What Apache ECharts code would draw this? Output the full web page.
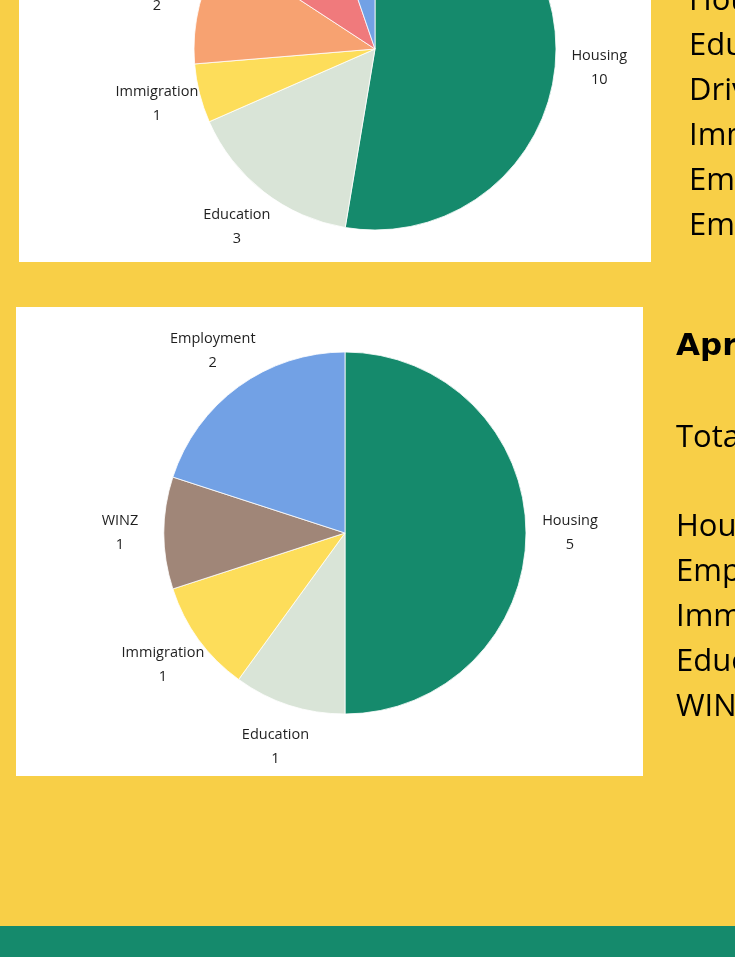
<!DOCTYPE html>
<html>
<head>
<meta charset="utf-8">
<script src="https://cdn.jsdelivr.net/npm/echarts@6/dist/echarts.min.js"></script>
<style>
  html, body { margin: 0; padding: 0; background: #f8cf47; }
  #chart { width: 735px; height: 957px; }
</style>
</head>
<body>
<div id="chart"></div>
<script>
// 上一个月（顶部饼图，部分被裁掉）
const topNames = ['Housing', 'Education', 'Immigration', 'Driving', 'Emergency', 'Employment']
const topValues = [10, 3, 1, 2, 2, 1]
const topColors = ['#158a6c', '#d9e4d7', '#fddd5a', '#f7a271', '#f07a7c', '#72a1e5']
const topListOrder = ['Housing', 'Education', 'Driving', 'Immigration', 'Employment', 'Emergency']

// 四月
const aprNames = ['Housing', 'Education', 'Immigration', 'WINZ', 'Employment']
const aprValues = [5, 1, 1, 1, 2]
const aprColors = ['#158a6c', '#d9e4d7', '#fddd5a', '#a08678', '#72a1e5']
const aprListOrder = ['Housing', 'Employment', 'Immigration', 'Education', 'WINZ']
const aprTitle = 'April'

const labelFont = '"Open Sans", "Noto Sans", sans-serif'
const listFont = '"Open Sans", "Noto Sans", sans-serif'
const titleFont = '"DejaVu Sans", sans-serif'

const chart = echarts.init(document.getElementById('chart'))

const toData = (names, values, colors) =>
  names.map((n, i) => ({ name: n, value: values[i], itemStyle: { color: colors[i] } }))

// 饼图本体
const pieSeries = (names, values, colors, center) => ({
  type: 'pie',
  center,
  radius: 181,
  startAngle: 90,
  clockwise: true,
  silent: true,
  label: { show: false },
  labelLine: { show: false },
  itemStyle: { borderColor: '#ffffff', borderWidth: 0.8 },
  data: toData(names, values, colors),
  z: 3
})

// 透明外环，只用来把标签居中放在扇区外
const labelRing = (names, values, center) => ({
  type: 'pie',
  center,
  radius: [210, 234],
  startAngle: 90,
  clockwise: true,
  silent: true,
  itemStyle: { color: 'transparent', borderWidth: 0 },
  label: {
    show: true,
    position: 'inside',
    formatter: '{n|{b}}\n{n|{c}}',
    rich: {
      n: {
        fontFamily: labelFont,
        fontSize: 14.5,
        lineHeight: 24,
        color: '#1f1f1f',
        align: 'center'
      }
    }
  },
  labelLine: { show: false },
  emphasis: { disabled: true },
  data: names.map((n, i) => ({ name: n, value: values[i] })),
  z: 4
})

const listText = (text, x, y, bold) => ({
  type: 'text',
  x, y,
  z: 5,
  style: {
    text,
    fill: '#000000',
    font: bold ? 'bold 31px ' + titleFont : '31px ' + listFont,
    verticalAlign: 'middle',
    align: 'left'
  }
})

const graphics = [
  { type: 'rect', z: 1, shape: { x: 19, y: -10, width: 632, height: 272 }, style: { fill: '#ffffff' } },
  { type: 'rect', z: 1, shape: { x: 16, y: 307, width: 627, height: 469 }, style: { fill: '#ffffff' } },
  { type: 'rect', z: 1, shape: { x: 0, y: 926, width: 735, height: 31 }, style: { fill: '#158a6c' } }
]

topListOrder.forEach((n, i) => {
  const v = topValues[topNames.indexOf(n)]
  graphics.push(listText(n + ': ' + v, 689, 1 + i * 45, false))
})

const aprTotal = aprValues.reduce((a, b) => a + b, 0)
graphics.push(listText(aprTitle, 676, 347, true))
graphics.push(listText('Total: ' + aprTotal, 676, 438, false))
aprListOrder.forEach((n, i) => {
  const v = aprValues[aprNames.indexOf(n)]
  graphics.push(listText(n + ': ' + v, 676, 527 + i * 45, false))
})

const option = {
  backgroundColor: '#f8cf47',
  animation: false,
  graphic: { elements: graphics },
  series: [
    pieSeries(topNames, topValues, topColors, [375, 49]),
    labelRing(topNames, topValues, [375, 49]),
    pieSeries(aprNames, aprValues, aprColors, [345, 533]),
    labelRing(aprNames, aprValues, [345, 533])
  ]
}

chart.setOption(option)
</script>
</body>
</html>
